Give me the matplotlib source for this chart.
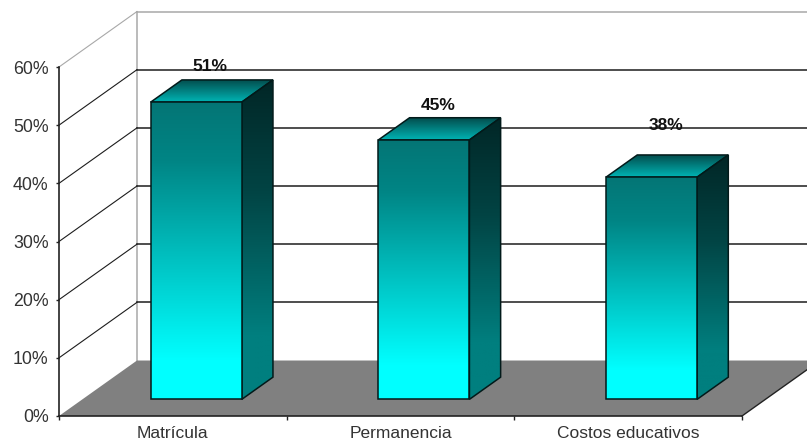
import numpy as np
import matplotlib
matplotlib.use("Agg")
import matplotlib.pyplot as plt
from matplotlib.colors import LinearSegmentedColormap
from matplotlib.patches import Polygon

categorias = ["Matrícula", "Permanencia", "Costos educativos"]
valores = [51.1, 44.6, 38.2]
ticks_y = [0, 10, 20, 30, 40, 50, 60]

# altura de las etiquetas encima de cada barra (en % del eje)
sep_etiqueta = [9.0, 8.7, 11.8]

plt.rcParams["font.family"] = ["Liberation Sans", "DejaVu Sans"]

W, H = 807, 445
fig = plt.figure(figsize=(W / 100, H / 100), dpi=100, facecolor="white")
# el plano frontal del grafico va de x=59 a 742 y de y=416 a 67 (pixeles)
ax = fig.add_axes([59 / W, 1 - 416 / H, (742 - 59) / W, (416 - 67) / H])
ax.set_facecolor("none")

# profundidad del grafico en unidades de los ejes
DX = 0.3426
DY = 9.54


def proy(x, y, z):
    return (x + z * DX, y + z * DY)


def cara(puntos, colores, zorder):
    # cara con degradado vertical, recortada al poligono
    cmap = LinearSegmentedColormap.from_list("c", colores)
    xs = [p[0] for p in puntos]
    ys = [p[1] for p in puntos]
    grad = np.linspace(0, 1, 256).reshape(-1, 1)
    im = ax.imshow(grad, cmap=cmap, origin="upper", aspect="auto", zorder=zorder,
                   extent=[min(xs), max(xs), min(ys), max(ys)], clip_on=True)
    pol = Polygon(puntos, closed=True, fc="none", ec="#021a1a", lw=1.1, zorder=zorder + 0.1, clip_on=False)
    ax.add_patch(pol)
    im.set_clip_path(pol)


# suelo
ax.add_patch(Polygon([proy(0, 0, 0), proy(0, 0, 1), proy(3, 0, 1), proy(3, 0, 0)], closed=True,
                     fc="#808080", ec="none", zorder=1, clip_on=False))
ax.plot(*zip(proy(3, 0, 0), proy(3, 0, 1)), color="#222222", lw=1, zorder=1.5, clip_on=False)

# paredes y rejilla
for t in ticks_y:
    color = "#a8a8a8" if t == 60 else "#1c1c1c"
    if t > 0:
        ax.plot(*zip(proy(0, t, 0), proy(0, t, 1)), color=color, lw=0.8, zorder=0.5, clip_on=False)
        ax.plot(*zip(proy(0, t, 1), proy(3, t, 1)), color=color, lw=1.1, zorder=0.5, clip_on=False)
ax.plot(*zip(proy(0, 0, 1), proy(0, 60, 1)), color="#a8a8a8", lw=1.1, zorder=0.4, clip_on=False)

# barras
for i, v in enumerate(valores):
    x0, x1 = i + 0.3, i + 0.7
    z0, z1 = 0.3, 0.7
    cara([proy(x0, 0, z0), proy(x1, 0, z0), proy(x1, v, z0), proy(x0, v, z0)],
         [(0, "#047575"), (0.2, "#008585"), (0.87, "#00ffff"), (1, "#00ffff")], 3)
    cara([proy(x1, 0, z0), proy(x1, 0, z1), proy(x1, v, z1), proy(x1, v, z0)],
         [(0, "#012626"), (0.35, "#024444"), (0.8, "#007f7f"), (1, "#007f7f")], 2.8)
    cara([proy(x0, v, z0), proy(x1, v, z0), proy(x1, v, z1), proy(x0, v, z1)],
         ["#034a4a", "#00b4b4"], 2.6)
    ax.text(i + 0.665, v + sep_etiqueta[i], f"{v:.0f}%", ha="center", va="center",
            fontsize=12.5, fontweight="bold", color="#111111", zorder=5, clip_on=False)

ax.set_xlim(0, 3)
ax.set_ylim(0, 60)
ax.set_xticks([0, 1, 2, 3])
ax.set_xticklabels([])
ax.set_xticks([0.5, 1.5, 2.5], minor=True)
ax.set_xticklabels(categorias, minor=True, fontsize=12.5, color="#333333")
ax.tick_params(axis="x", which="minor", length=0, pad=7.5)
ax.tick_params(axis="x", which="major", length=3, width=1, color="#222222")
ax.set_yticks(ticks_y)
ax.set_yticklabels([f"{t}%" for t in ticks_y], fontsize=12.8, color="#333333")
ax.tick_params(axis="y", length=2.5, width=1, color="#222222", pad=5)
for s in ["top", "right"]:
    ax.spines[s].set_visible(False)
for s in ["left", "bottom"]:
    ax.spines[s].set_color("#222222")
    ax.spines[s].set_linewidth(1.2)
    ax.spines[s].set_zorder(2)

fig.savefig("out.png", dpi=100)
